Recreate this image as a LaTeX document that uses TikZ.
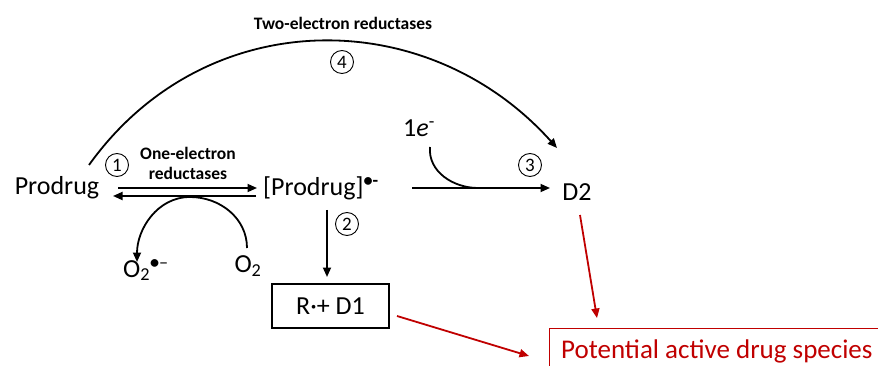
\documentclass[tikz,border=0pt]{standalone}
\usepackage{fontspec}
\setmainfont{Carlito}
\usetikzlibrary{arrows.meta}
\definecolor{dred}{RGB}{192,0,0}
\begin{document}
\begin{tikzpicture}[x=1pt,y=-1pt,
  lbl/.style={inner sep=0pt,font=\fontsize{26}{30}\selectfont},
  small/.style={inner sep=0pt,font=\fontsize{17.5}{20}\selectfont\bfseries,align=center},
  num/.style={circle,draw,line width=0.9pt,inner sep=0pt,minimum size=23pt,font=\fontsize{19}{20}\selectfont},
  arr/.style={line width=1.8pt,-{Triangle[length=9.5pt,width=8pt]}},
  redarr/.style={arr,draw=dred,fill=dred}]
\useasboundingbox (0,0) rectangle (878,366);
\clip (0,0) rectangle (878,366);
% text nodes
\node[lbl] (pro) at (57,188) {Prodrug};
\node[lbl,anchor=west] (prad) at (263,188) {[Prodrug]\textsuperscript{\textbf{•-}}};
\node[lbl] (d2) at (577,192) {D2};
\node[lbl,anchor=west] (o2r) at (123,270) {O\textsubscript{2}\textsuperscript{\textbf{•}–}};
\node[lbl] (o2) at (248,266) {O\textsubscript{2}};
\node[lbl] (e1) at (419,128) {1\textit{e}\textsuperscript{-}};
\node[lbl,draw,line width=1.3pt,minimum width=117pt,minimum height=44pt] (rd1) at (330.5,306) {R·+ D1};
\node[draw=dred,line width=1.3pt,anchor=north west,minimum width=360pt,minimum height=60pt] (pbox) at (549,328) {};
\node[lbl,text=dred,anchor=west,font=\fontsize{27}{30}\selectfont] (ptxt) at (561,351) {Potential active drug species};
\node[small] (two) at (343,23) {Two-electron reductases};
\node[small] (one) at (188,163) {One-electron\\reductases};
% numbers
\node[num] (n1) at (117,165) {1};
\node[num] (n2) at (347,224) {2};
\node[num] (n3) at (530,165) {3};
\node[num] (n4) at (342,62) {4};
% coordinates
\coordinate (a1s) at (118,188); \coordinate (a1e) at (257,188);
\coordinate (a2s) at (256,196); \coordinate (a2e) at (113,196);
\coordinate (vs) at (327,210); \coordinate (ve) at (327,277);
\coordinate (hs) at (412,188); \coordinate (he) at (550,188);
\coordinate (es) at (430,147); \coordinate (ee) at (478,188);
\coordinate (os) at (247,248); \coordinate (otop) at (190,197); \coordinate (oe) at (137,262);
\coordinate (bs) at (89,165); \coordinate (be) at (557,148);
\coordinate (r1s) at (397,316); \coordinate (r1e) at (529,356);
\coordinate (r2s) at (580,215); \coordinate (r2e) at (597,318);
% connectors
\draw[arr] (a1s) -- (a1e);
\draw[arr] (a2s) -- (a2e);
\draw[arr] (vs) -- (ve);
\draw[arr] (hs) -- (he);
\draw[line width=1.8pt] (es) to[out=-95,in=180] (ee);
\draw[arr] (os) to[out=90,in=0] (otop) to[out=180,in=90] (oe);
\draw[arr] (bs) .. controls (205,3) and (427,3) .. (be);
\draw[redarr] (r1s) -- (r1e);
\draw[redarr] (r2s) -- (r2e);
\end{tikzpicture}
\end{document}
